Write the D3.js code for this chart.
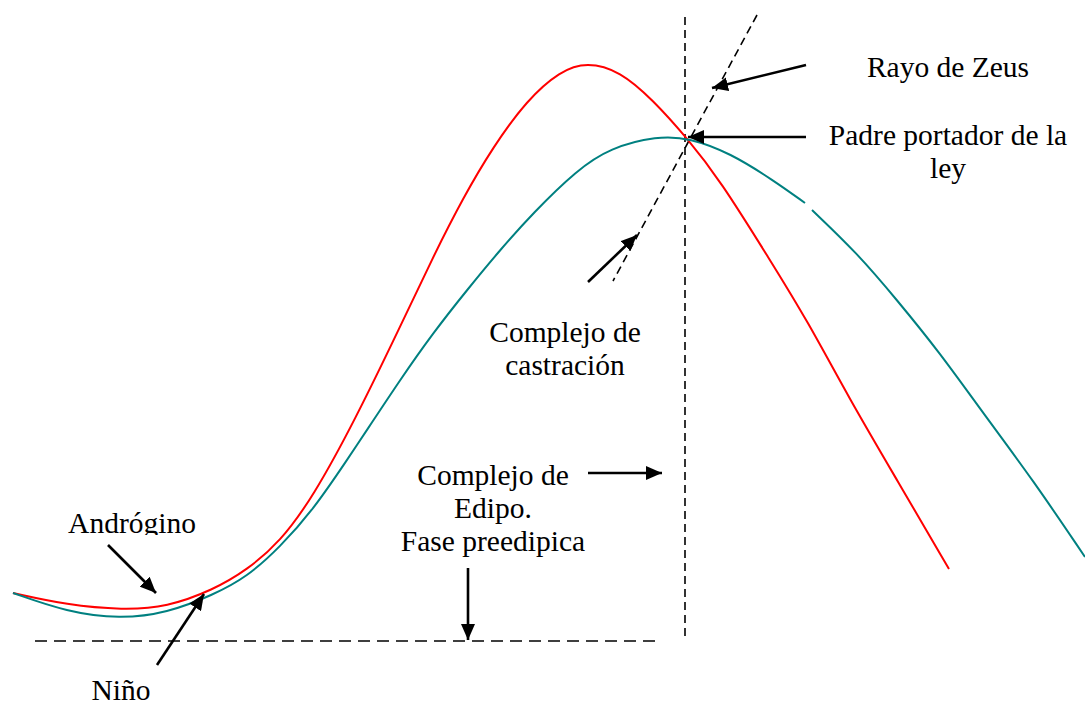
<!DOCTYPE html>
<html lang="es">

<head>
  <meta charset="UTF-8">
  <title>Complejo de Edipo</title>
  <script src="https://d3js.org/d3.v7.min.js"></script>
  <style>
    body {
      margin: 0;
      background: #fff;
    }

    .label {
      font-family: "Liberation Serif", "Times New Roman", serif;
      font-size: 29.5px;
      fill: #000;
      text-anchor: middle;
    }
  </style>
</head>

<body>
  <div id="chart"></div>

  <script>
    // Curves (x = stage, y = level above the dashed base)
    const redX = [1.3, 6.7, 12.3, 16.7, 21.3, 24.7, 28.0, 31.3, 35.5, 40.0, 43.3, 46.3, 49.3, 52.7, 56.0, 58.7, 62.0, 65.3, 68.7, 72.0, 77.0, 80.7, 85.0, 89.7, 94.9];
    const redY = [4.8, 3.6, 3.1, 3.4, 5.1, 7.1, 9.9, 14.4, 22.1, 31.4, 38.4, 44.3, 49.4, 54.1, 57.0, 57.9, 57.0, 54.1, 50.3, 46.1, 38.1, 32.1, 24.1, 16.1, 7.2];

    // null marks the small break in the teal line
    const tealX = [1.3, 6.7, 12.0, 16.7, 21.3, 24.7, 28.0, 31.3, 34.7, 36.7, 40.0, 43.3, 46.7, 50.0, 53.3, 57.7, 61.0, 65.7, 69.0, 73.0, 77.3, 80.5, null, 81.2, 85.7, 89.7, 94.0, 98.3, 103.3, 108.5];
    const tealY = [4.8, 2.9, 2.2, 2.8, 4.6, 6.4, 9.4, 13.1, 18.1, 21.1, 26.1, 30.8, 35.1, 39.1, 42.8, 47.1, 49.3, 50.5, 50.3, 48.8, 46.1, 43.8, null, 43.1, 38.8, 34.1, 28.8, 22.8, 16.1, 8.4];

    // dashed guide lines [x1, y1, x2, y2]
    const guideLines = [
      [68.5, 62.4, 68.5, 0],     // vertical
      [3.5, 0, 66.2, 0],         // base
      [75.7, 62.6, 61.3, 36.0]   // rayo
    ];
    const guideDash = ["8,5", "12,7", "8,5"];

    // arrows [fromX, fromY, toX, toY]
    const arrows = [
      [80.6, 57.6, 71.2, 55.3],
      [80.6, 50.4, 68.8, 50.4],
      [58.8, 35.9, 63.7, 40.6],
      [58.8, 16.8, 66.2, 16.8],
      [46.8, 7.3, 46.8, 0.1],
      [10.8, 9.6, 15.6, 4.8],
      [15.7, -2.4, 20.4, 4.7]
    ];

    // labels: lines, centre x, first baseline y
    const labelLines = [
      ["Rayo de Zeus"],
      ["Padre portador de la", "ley"],
      ["Complejo de", "castración"],
      ["Complejo de", "Edipo.", "Fase preedipica"],
      ["Andrógino"],
      ["Niño"]
    ];
    const labelX = [94.8, 94.8, 56.5, 49.3, 13.2, 12.1];
    const labelY = [56.4, 49.6, 29.9, 15.6, 10.8, -5.9];

    const width = 1085;
    const height = 707;

    const x = d3.scaleLinear().domain([0, 108.5]).range([0, width]);
    const y = d3.scaleLinear().domain([0, 64.1]).range([641, 0]);

    const svg = d3.select("#chart")
      .append("svg")
      .attr("width", width)
      .attr("height", height);

    const defs = svg.append("defs");
    defs.append("marker")
      .attr("id", "head")
      .attr("markerUnits", "userSpaceOnUse")
      .attr("viewBox", "0 0 16 14")
      .attr("refX", 16)
      .attr("refY", 7)
      .attr("markerWidth", 16)
      .attr("markerHeight", 14)
      .attr("orient", "auto")
      .append("path")
      .attr("d", "M0,0 L16,7 L0,14 Z")
      .attr("fill", "#000");

    // the Andrógino text box cuts off the descender
    defs.append("clipPath")
      .attr("id", "clipAndro")
      .append("rect")
      .attr("x", 0)
      .attr("y", 0)
      .attr("width", width)
      .attr("height", y(10.6));

    // Dashed guides
    svg.selectAll(".guide")
      .data(guideLines)
      .enter()
      .append("line")
      .attr("class", "guide")
      .attr("x1", d => x(d[0]))
      .attr("y1", d => y(d[1]))
      .attr("x2", d => x(d[2]))
      .attr("y2", d => y(d[3]))
      .attr("stroke", "#000")
      .attr("stroke-width", 1.6)
      .attr("stroke-dasharray", (d, i) => guideDash[i]);

    // Curves
    const line = d3.line()
      .defined(d => d[1] != null)
      .x(d => x(d[0]))
      .y(d => y(d[1]))
      .curve(d3.curveBasis);

    const series = [
      { pts: redX.map((v, i) => [v, redY[i]]), color: "#ff0000" },
      { pts: tealX.map((v, i) => [v, tealY[i]]), color: "#008080" }
    ];

    svg.selectAll(".curve")
      .data(series)
      .enter()
      .append("path")
      .attr("class", "curve")
      .attr("d", d => line(d.pts))
      .attr("fill", "none")
      .attr("stroke", d => d.color)
      .attr("stroke-width", 2);

    // Arrows
    svg.selectAll(".arrow")
      .data(arrows)
      .enter()
      .append("line")
      .attr("class", "arrow")
      .attr("x1", d => x(d[0]))
      .attr("y1", d => y(d[1]))
      .attr("x2", d => x(d[2]))
      .attr("y2", d => y(d[3]))
      .attr("stroke", "#000")
      .attr("stroke-width", 2.6)
      .attr("marker-end", "url(#head)");

    // Labels
    const lineHeight = 33;
    labelLines.forEach((lines, i) => {
      const t = svg.append("text")
        .attr("class", "label")
        .attr("x", x(labelX[i]))
        .attr("y", y(labelY[i]));
      if (lines[0] === "Andrógino") t.attr("clip-path", "url(#clipAndro)");
      lines.forEach((s, j) => {
        t.append("tspan")
          .attr("x", x(labelX[i]))
          .attr("dy", j === 0 ? 0 : lineHeight)
          .text(s);
      });
    });
  </script>
</body>

</html>
